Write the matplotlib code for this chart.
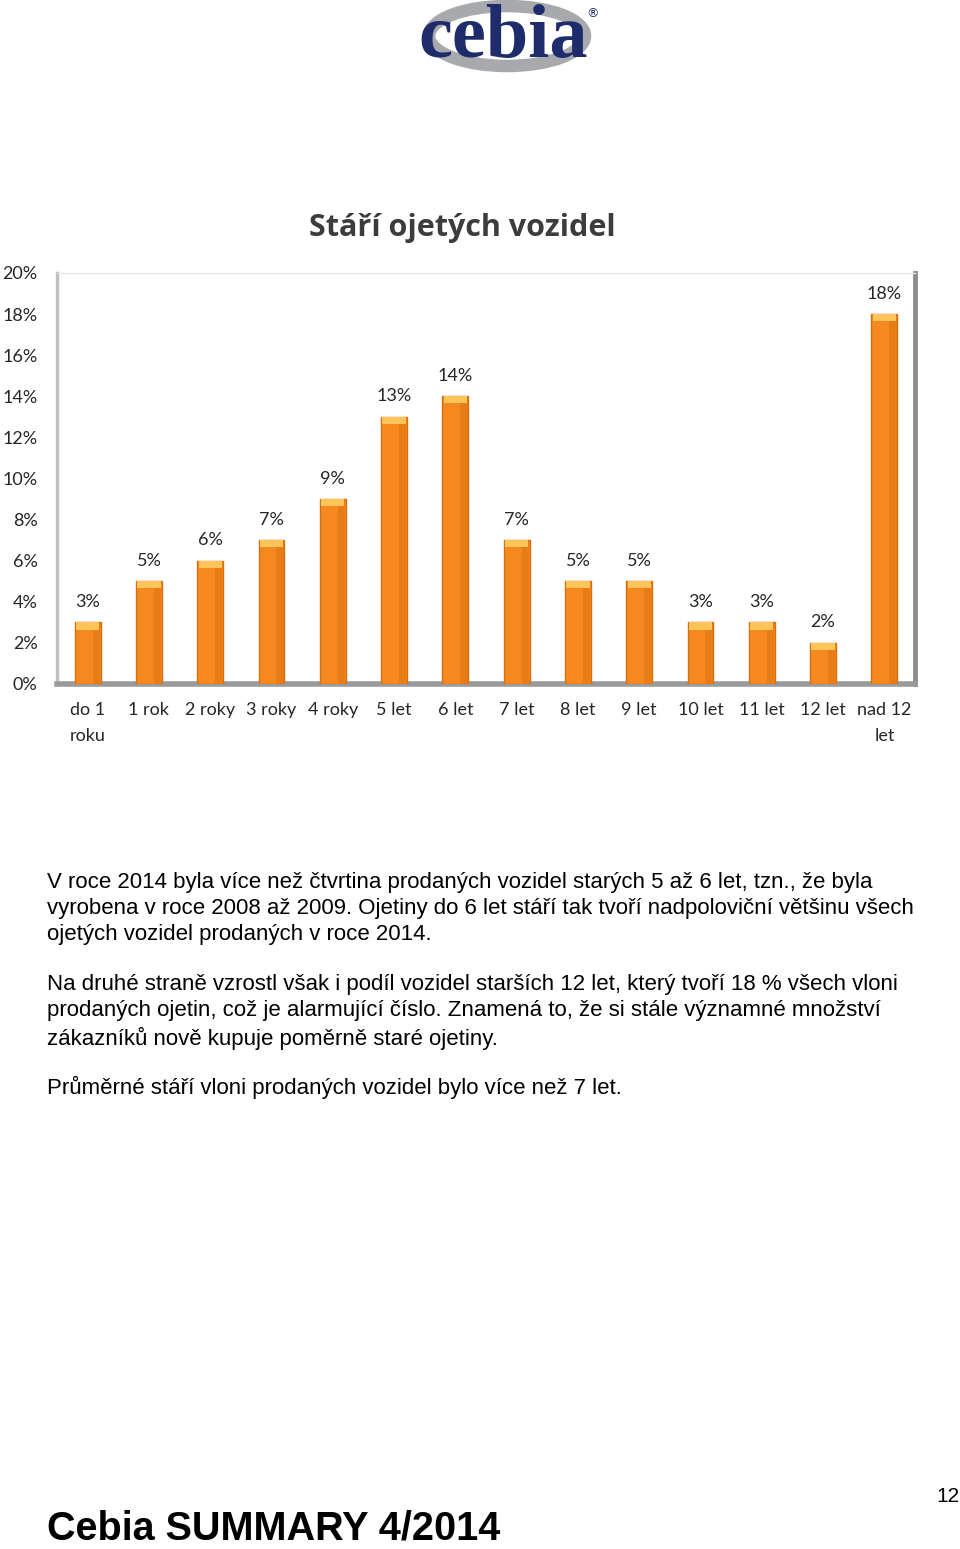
import matplotlib.pyplot as plt
import numpy as np
from matplotlib.patches import Ellipse

# data
categories = ['do 1\nroku', '1 rok', '2 roky', '3 roky', '4 roky', '5 let', '6 let',
              '7 let', '8 let', '9 let', '10 let', '11 let', '12 let', 'nad 12\nlet']
shares = [3, 5, 6, 7, 9, 13, 14, 7, 5, 5, 3, 3, 2, 18]
yticks = [0, 2, 4, 6, 8, 10, 12, 14, 16, 18, 20]

title = 'Stáří ojetých vozidel'
para1 = ('V roce 2014 byla více než čtvrtina prodaných vozidel starých 5 až 6 let, tzn., že byla\n'
         'vyrobena v roce 2008 až 2009. Ojetiny do 6 let stáří tak tvoří nadpoloviční většinu všech\n'
         'ojetých vozidel prodaných v roce 2014.')
para2 = ('Na druhé straně vzrostl však i podíl vozidel starších 12 let, který tvoří 18 % všech vloni\n'
         'prodaných ojetin, což je alarmující číslo. Znamená to, že si stále významné množství\n'
         'zákazníků nově kupuje poměrně staré ojetiny.')
para3 = 'Průměrné stáří vloni prodaných vozidel bylo více než 7 let.'
footer = 'Cebia SUMMARY 4/2014'
page_no = '12'

W, H = 960, 1549
fig = plt.figure(figsize=(W / 100, H / 100), dpi=100)
fig.patch.set_facecolor('white')

# logo
logo = fig.add_axes([0, 0, 1, 1], zorder=0)
logo.set_xlim(0, W)
logo.set_ylim(H, 0)
logo.axis('off')
logo.add_patch(Ellipse((507, 36), 156, 60, fill=False, edgecolor='#a7a9ac', linewidth=9))
logo.text(503, 57, 'cebia', fontsize=55, fontweight='bold', family='Liberation Serif',
          color='#1f2c6b', ha='center', va='baseline')
logo.text(592, 14, '®', fontsize=9, color='#1f2c6b', ha='center', va='center')

# chart
ax = fig.add_axes([57 / W, 1 - 684 / H, 858 / W, 411 / H], zorder=1)
x = np.arange(len(categories))
ax.bar(x, shares, width=0.42, color='#f5881f', edgecolor='#d46f12', linewidth=1, zorder=3)
# lighter top cap
ax.bar(x, [0.35] * len(shares), bottom=[v - 0.35 for v in shares], width=0.38,
       color='#fdc45a', linewidth=0, zorder=4)
# darker side shading
ax.bar(x + 0.14, shares, width=0.12, color='#e07413', linewidth=0, zorder=3.5, alpha=0.6)

for xi, v in zip(x, shares):
    ax.annotate(f'{v}%', (xi, v), xytext=(0, 9), textcoords='offset points',
                ha='center', va='bottom', fontsize=13, family='Lato', color='#262626')

ax.set_xlim(-0.5, len(categories) - 0.5)
ax.set_ylim(0, 20)
ax.set_yticks(yticks)
ax.set_yticklabels([f'{t}%' for t in yticks], fontsize=13, family='Lato', color='#262626')
ax.set_xticks(x)
ax.set_xticklabels(categories, fontsize=13, family='Lato', color='#262626', linespacing=1.73)
ax.tick_params(axis='both', length=0)
ax.tick_params(axis='y', pad=14)
ax.tick_params(axis='x', pad=13)

ax.spines['top'].set_color('#e6e6e6')
ax.spines['top'].set_linewidth(1)
ax.spines['left'].set_color('#bfbfbf')
ax.spines['left'].set_linewidth(2.5)
ax.spines['right'].set_color('#8c8c8c')
ax.spines['right'].set_linewidth(3.5)
ax.spines['bottom'].set_color('#9a9a9a')
ax.spines['bottom'].set_linewidth(4)

fig.text(462 / W, 1 - 228 / H, title, fontsize=22, fontweight='bold', family='Open Sans',
         color='#3c3c3c', ha='center', va='center')

# body text
body = dict(fontsize=16, family='Liberation Sans', ha='left', va='top', linespacing=1.32)
fig.text(47 / W, 1 - 872 / H, para1, **body)
fig.text(47 / W, 1 - 974 / H, para2, **body)
fig.text(47 / W, 1 - 1076 / H, para3, **body)

fig.text(47 / W, 1 - 1548 / H, footer, fontsize=28.5, fontweight='bold', family='Liberation Sans',
         ha='left', va='bottom')
fig.text(960 / W, 1 - 1497 / H, page_no, fontsize=15, family='Liberation Sans',
         ha='right', va='center')

fig.savefig('out.png', dpi=100)
